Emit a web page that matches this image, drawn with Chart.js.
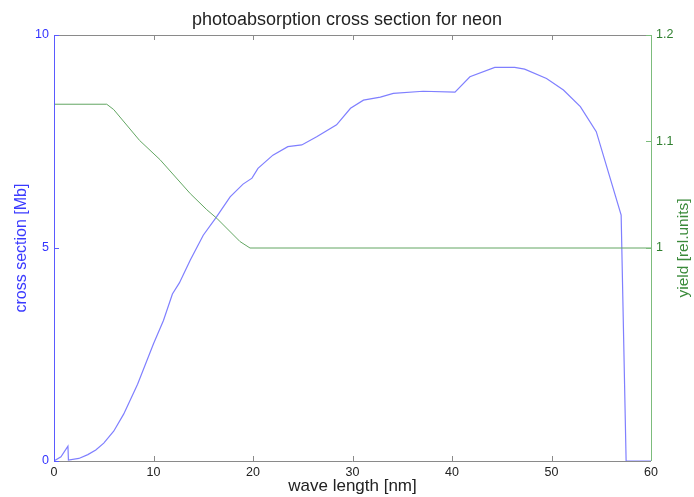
<!DOCTYPE html>
<html>
<head>
<meta charset="utf-8">
<script src="https://cdn.jsdelivr.net/npm/chart.js@4.4.0/dist/chart.umd.min.js"></script>
<style>
  html, body { margin: 0; padding: 0; background: #fff; }
  #wrap { width: 694px; height: 497px; position: relative; }
</style>
</head>
<body>
<div id="wrap"><canvas id="c" width="694" height="497"></canvas></div>
<script>
// ---- data ----
const waveBlue = [0, 0.7, 1.4, 1.45, 2.5, 3.4, 4.2, 5.0, 6.0, 7.0, 8.4, 10.0, 11.0, 11.9, 12.6, 13.7, 15.0, 16.3, 17.7, 19.0, 19.9, 20.5, 22.0, 23.5, 24.9, 26.4, 28.4, 29.8, 31.1, 32.8, 34.1, 37.1, 40.3, 41.8, 44.3, 46.3, 47.3, 49.5, 51.2, 52.9, 54.5, 57.0, 57.5, 60];
const crossSection = [0, 0.1, 0.35, 0.02, 0.06, 0.15, 0.26, 0.42, 0.7, 1.1, 1.8, 2.75, 3.3, 3.92, 4.18, 4.72, 5.3, 5.72, 6.2, 6.5, 6.64, 6.87, 7.18, 7.38, 7.42, 7.61, 7.89, 8.28, 8.47, 8.54, 8.63, 8.68, 8.66, 9.02, 9.24, 9.24, 9.2, 8.98, 8.71, 8.32, 7.73, 5.77, 0, 0];
const waveGreen = [0, 5.3, 6.0, 8.6, 10.65, 13.7, 15.35, 16.35, 18.7, 19.7, 60];
const yieldVals = [1.135, 1.135, 1.13, 1.101, 1.083, 1.051, 1.036, 1.028, 1.006, 1.0, 1.0];
const xTicks = [0, 10, 20, 30, 40, 50, 60];
const yLeftTicks = [0, 5, 10];
const yRightTicks = [1, 1.1, 1.2];

const BLUE_AX = '#5a5aff';
const BLUE_LN = '#7f7fff';
const GREEN_AX = '#7cbc7c';
const GREEN_LN = '#62a662';
const GRAY = '#8a8a8a';
const FONT = 'Liberation Sans, Arial, sans-serif';

const blueData = waveBlue.map((x, i) => ({x: x, y: crossSection[i]}));
const greenData = waveGreen.map((x, i) => ({x: x, y: yieldVals[i]}));

const boxPlugin = {
  id: 'box',
  afterDraw(chart) {
    const ctx = chart.ctx;
    const a = chart.chartArea;
    const sx = chart.scales.x, sl = chart.scales.y, sr = chart.scales.y1;
    const TL = 5;
    ctx.save();
    ctx.lineWidth = 1;
    // top & bottom
    ctx.strokeStyle = GRAY;
    ctx.beginPath();
    ctx.moveTo(a.left, a.top + 0.5); ctx.lineTo(a.right, a.top + 0.5);
    ctx.moveTo(a.left, a.bottom + 0.5); ctx.lineTo(a.right, a.bottom + 0.5);
    xTicks.forEach(v => {
      const px = Math.round(sx.getPixelForValue(v)) + 0.5;
      ctx.moveTo(px, a.bottom); ctx.lineTo(px, a.bottom - TL);
      ctx.moveTo(px, a.top); ctx.lineTo(px, a.top + TL);
    });
    ctx.stroke();
    // left
    ctx.strokeStyle = BLUE_AX;
    ctx.beginPath();
    ctx.moveTo(a.left + 0.5, a.top); ctx.lineTo(a.left + 0.5, a.bottom);
    yLeftTicks.forEach(v => {
      const py = Math.round(sl.getPixelForValue(v)) + 0.5;
      ctx.moveTo(a.left, py); ctx.lineTo(a.left + TL, py);
    });
    ctx.stroke();
    // right
    ctx.strokeStyle = GREEN_AX;
    ctx.beginPath();
    ctx.moveTo(a.right + 0.5, a.top); ctx.lineTo(a.right + 0.5, a.bottom);
    yRightTicks.forEach(v => {
      const py = Math.round(sr.getPixelForValue(v)) + 0.5;
      ctx.moveTo(a.right, py); ctx.lineTo(a.right - TL, py);
    });
    ctx.stroke();
    // right axis title (reads bottom-to-top)
    ctx.fillStyle = '#3a8a3a';
    ctx.font = '15.5px ' + FONT;
    ctx.textAlign = 'center';
    ctx.textBaseline = 'middle';
    ctx.translate(684, (a.top + a.bottom) / 2);
    ctx.rotate(-Math.PI / 2);
    ctx.fillText('yield [rel.units]', 0, 0);
    ctx.restore();
  }
};

new Chart(document.getElementById('c'), {
  type: 'line',
  data: {
    datasets: [
      { data: greenData, yAxisID: 'y1', borderColor: GREEN_LN, borderWidth: 1, pointRadius: 0, tension: 0, fill: false },
      { data: blueData, yAxisID: 'y', borderColor: BLUE_LN, borderWidth: 1.2, pointRadius: 0, tension: 0, fill: false }
    ]
  },
  options: {
    responsive: false,
    animation: false,
    layout: { padding: 0 },
    plugins: {
      legend: { display: false },
      tooltip: { enabled: false },
      title: {
        display: true,
        text: 'photoabsorption cross section for neon',
        color: '#222',
        font: { family: FONT, size: 18, weight: 'normal' },
        padding: { top: 9, bottom: 4.4 }
      }
    },
    scales: {
      x: {
        type: 'linear', min: 0, max: 60,
        afterBuildTicks: s => { s.ticks = xTicks.map(v => ({value: v})); },
        afterFit: s => { s.height = 36; },
        grid: { display: false, drawTicks: false },
        border: { display: false },
        ticks: { color: '#222', font: { family: FONT, size: 12.5 }, padding: 4, maxRotation: 0, callback: v => String(v) },
        title: { display: true, text: 'wave length [nm]', color: '#222', font: { family: FONT, size: 17 }, padding: { top: 0, bottom: 0 } }
      },
      y: {
        type: 'linear', position: 'left', min: 0, max: 10,
        afterBuildTicks: s => { s.ticks = yLeftTicks.map(v => ({value: v})); },
        afterFit: s => { s.width = 54; },
        grid: { display: false, drawTicks: false },
        border: { display: false },
        ticks: { color: '#3333ff', font: { family: FONT, size: 12.5 }, padding: 5, callback: v => String(v) },
        title: { display: true, text: 'cross section [Mb]', color: '#3a3aff', font: { family: FONT, size: 16 }, padding: { top: 12, bottom: 0 } }
      },
      y1: {
        type: 'linear', position: 'right', min: 0.8, max: 1.2,
        afterBuildTicks: s => { s.ticks = yRightTicks.map(v => ({value: v})); },
        afterFit: s => { s.width = 43; },
        grid: { display: false, drawTicks: false },
        border: { display: false },
        ticks: { color: '#2f7f2f', font: { family: FONT, size: 12.5 }, padding: 5, callback: v => String(v) },
        title: { display: false }
      }
    }
  },
  plugins: [boxPlugin]
});
</script>
</body>
</html>
